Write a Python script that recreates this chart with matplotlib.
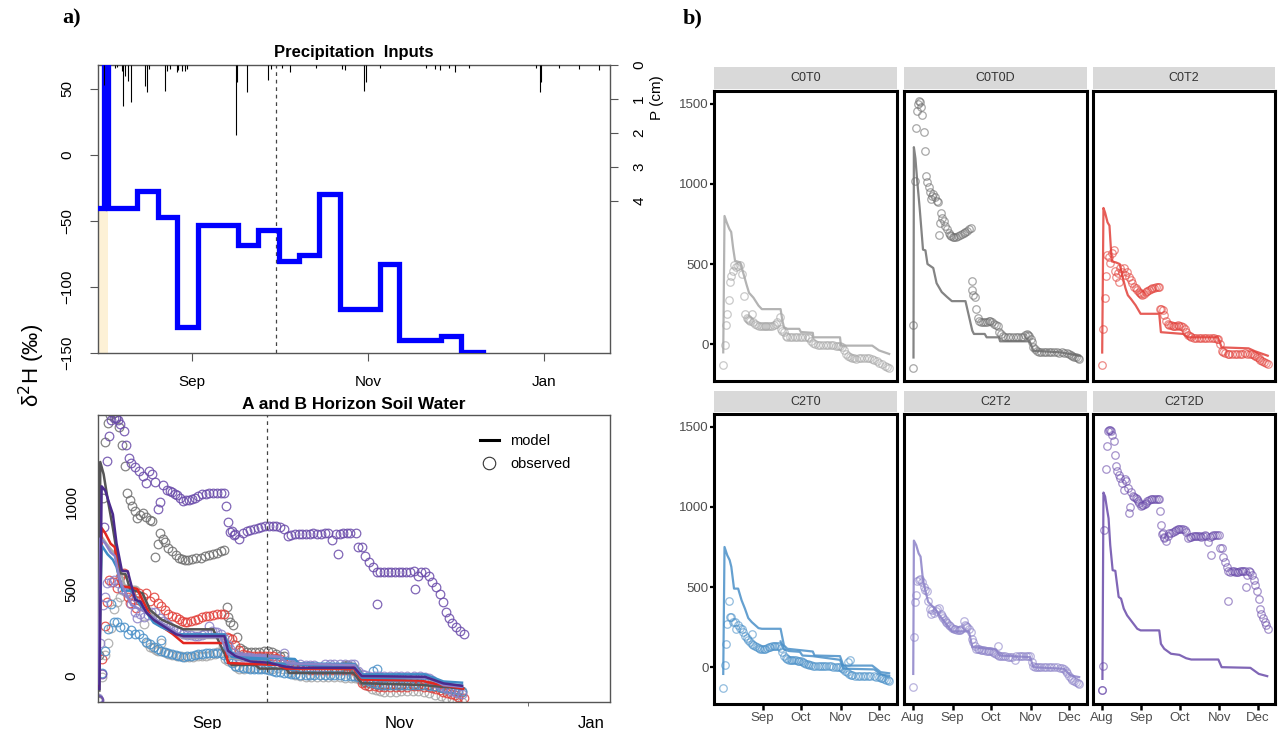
import matplotlib
matplotlib.use('Agg')
import matplotlib.pyplot as plt
from matplotlib.lines import Line2D

plt.rcParams['font.family'] = ['Liberation Sans', 'DejaVu Sans']

# ---------------- data (days since Aug 1) ----------------
# precipitation isotope input steps (panel a top)
precip_step_day = [-1.7, 0.5, 1.6, 11.8, 19.1, 25.7, 33.0, 47.0, 53.9, 60.9, 67.9, 74.8, 82.2, 96.1, 102.7, 117.3, 124.2, 131.7]
precip_step_val = [-40, 300, -40, -27, -47, -130, -53, -68, -57, -80, -76, -30, -117, -83, -140, -137, -149, -149]
# precipitation depth (cm)
rain_day = [0.5, 4.2, 4.8, 6.5, 7.1, 7.7, 8.6, 9.8, 14.6, 15.4, 16.0, 21.6, 22.2, 23.3, 25.7, 26.2, 27.4, 28.5, 29.1,
            46.2, 46.5, 50.0, 57.3, 58.2, 62.0, 65.0, 74.0, 83.0, 84.0, 90.5, 91.2, 96.0, 112.0, 115.0, 117.0, 120.0,
            122.0, 127.0, 150.0, 151.5, 152.0, 158.0, 165.0, 172.0]
rain_cm = [0.6, 0.09, 0.07, 0.17, 1.2, 0.31, 0.46, 1.1, 0.61, 0.79, 0.12, 0.76, 0.17, 0.12, 0.22, 0.14, 0.17, 0.17, 0.12,
           2.06, 0.51, 0.79, 0.43, 0.12, 0.1, 0.2, 0.1, 0.12, 0.15, 0.75, 0.5, 0.1, 0.08, 0.12, 0.15, 0.1,
           0.2, 0.1, 0.1, 0.8, 0.5, 0.1, 0.12, 0.15]
shade_day = [-1.7, 1.9]
shade_top = -42

month_day = [0, 31, 61, 92, 122]
month_lab = ['Aug', 'Sep', 'Oct', 'Nov', 'Dec']
dashed_day = 60

c0t0_obs = [(0,-133),(1.3,-5),(2.4,122),(3.4,187),(4.5,276),(5.6,387),(6.6,425),(7.7,456),(8.7,493),(10,484),(11.5,490),
    (13,495),(14.6,436),(16.4,297),(17.5,187),(18.5,165),(19.5,158),(20.5,150),(21.5,142),(22.5,187),(23.5,135),(25,125),
    (26.5,118),(28,114),(29.5,112),(31,110),(32.5,110),(34,111),(35.5,112),(37,113),(38.5,115),(40,120),(41.5,128),
    (42.5,137),(44.4,170),(45.2,95),(46.3,84),(47.6,78),(49,53),(50.3,42),(52,42),(54,43),(56,43),(58,43),(60,42),(62,42),
    (64,43),(66,42),(67.5,40),(68.8,21),(70,6),(72,0),(74,-5),(76,-7),(78,-7),(80,-8),(82,-8),(84,-8),(86,-9),(88,-10),
    (90,-11),(91.5,-14),(93,-20),(94.5,-35),(96,-60),(97.5,-75),(99,-82),(100.5,-88),(102,-90),(104,-91),(106,-90),
    (108,-88),(110,-86),(112,-85),(114,-88),(116,-95),(118,-100),(120,-108),(122,-116),(124,-125),(126,-135),(128,-145),(129.5,-150)]
c0t0d_obs = [(0,-147),(0.5,120),(1.9,1021),(2.6,1347),(3.4,1453),(4.3,1500),(4.8,1516),(5.8,1512),(6.5,1480),(7.4,1432),
    (8.5,1326),(9.5,1204),(10.3,1053),(11.4,1011),(12.2,979),(13.2,947),(14,905),(15,925),(15.9,937),(17.2,916),(18.5,895),
    (19.3,888),(20.4,682),(21.2,756),(22,819),(23,789),(24,768),(25.1,737),(26.5,716),(27.8,695),(29,680),(29.9,674),(31,668),
    (32,667),(33.5,670),(35,676),(36.5,680),(38,688),(39.7,695),(41,702),(42.3,709),(43.7,716),(45,722),
    (45.8,394),(46.3,337),(47.1,309),(48.1,295),(49.5,221),(50.5,162),(51.6,147),(53,140),(54.5,137),(56,137),(57.5,140),
    (59,145),(60.5,142),(62,137),(63.5,125),(64.8,116),(66.1,112),(67.5,74),(69,60),(70.1,53),(72,47),(74,43),(76,42),(78,42),
    (80,42),(82,43),(84,44),(86,46),(87.5,55),(88.6,63),(89.5,58),(90.7,53),(91.7,30),(92.6,11),(93.9,-21),(95,-33),(96.6,-42),
    (98.5,-48),(100,-50),(102,-52),(104,-52),(106,-52),(108,-52),(110,-52),(112,-52),(114,-53),(116,-52),(118,-54),(120,-58),
    (121.7,-62),(123,-67),(124.3,-73),(125.7,-78),(127,-84),(128.3,-90),(129.6,-95)]
c0t2_obs = [(0,-133),(1.3,95),(2.4,288),(3.2,425),(4,554),(5.3,541),(6.6,505),(7.9,568),(9.3,589),(10.6,456),(11.4,419),
    (12.4,442),(13.5,389),(14.6,474),(15.9,453),(17.2,474),(18.5,432),(19.8,453),(21.2,421),(22.5,400),(23.8,379),(25.1,358),
    (26.5,347),(27.8,337),(29,325),(29.9,316),(31,310),(31.7,309),(33,315),(34.4,322),(35.7,330),(37,337),(38.4,342),(39.7,347),
    (41,350),(42.3,354),(43.7,356),(45,358),
    (45.8,221),(46.7,216),(47.6,211),(48.9,179),(50.3,147),(51.6,126),(53,120),(54.2,116),(55.5,114),(56.9,112),(58.2,114),
    (59.5,116),(60.8,114),(62.2,112),(63.5,105),(64.8,95),(66.1,75),(67.5,57),(68.8,48),(70.1,42),(72,39),(74,37),(76,36),
    (78,36),(80,36),(82,36),(84,36),(86,36),(88,35),(90,33),(91.3,32),(92.6,0),(93.9,-42),(95.2,-50),(96.6,-56),(98.5,-60),
    (100,-62),(102,-63),(104,-63),(106,-63),(108,-63),(110,-61),(112.4,-59),(114,-60),(116,-62),(117.7,-63),(119,-67),
    (120.4,-73),(121.7,-80),(123,-90),(124.3,-97),(125.7,-105),(127,-112),(128.3,-120),(130.2,-126)]
c2t0_obs = [(0,-133),(1.3,14),(2.4,145),(3.4,271),(4.8,411),(5.8,312),(6.6,312),(7.9,281),(9.3,281),(10.6,239),(11.9,264),
    (13.2,243),(14.6,239),(15.9,218),(17.2,197),(18.5,181),(19.8,166),(21.2,156),(22.5,208),(22.5,145),(23.8,138),(25.1,131),
    (26.5,124),(27.8,118),(29,113),(30.4,110),(31.7,112),(33,114),(34.4,119),(35.7,124),(37,127),(38.4,129),(39.7,130),
    (41,131),(42.3,130),(43.7,129),(45,118),(46.3,97),(47.6,72),(48.9,55),(50.3,50),(51.6,47),(53,44),(54.2,41),(55.5,41),
    (56.9,41),(58.2,40),(59.5,39),(60.8,35),(62.2,30),(63.5,25),(64.8,20),(66.1,17),(67.5,14),(68.8,11),(70.1,9),(72,7),
    (74,6),(75.4,5),(77,5),(79,5),(80.7,5),(82.5,4),(84,4),(86,3),(88,2),(90,0),(91.3,-1),(92.6,-5),(93.9,-11),(95.2,-22),
    (96.6,-32),(97.9,30),(99.2,41),(98,-43),(99.5,-49),(101,-52),(103,-53),(105,-53),(107,-53),(109,-53),(111,-53),(113,-54),
    (115,-55),(117.7,-57),(119.5,-60),(121.7,-64),(123,-67),(124.3,-70),(125.7,-74),(127,-78),(128.3,-82),(129.6,-85)]
c2t2_obs = [(0,-125),(0.8,187),(1.9,406),(2.6,452),(3.2,536),(4.5,542),(5.8,549),(7.1,532),(8.5,501),(9.8,480),(11.1,473),
    (11.9,411),(13,365),(14,333),(15.1,354),(16.4,340),(17.7,348),(19,365),(20.4,369),(22,333),(23,318),(23.8,306),(24.8,293),
    (25.7,281),(26.8,272),(27.8,264),(29,254),(30.4,243),(31.7,238),(33,235),(34.4,232),(35.7,229),(37,233),(37.8,239),
    (39.7,287),(40.5,260),(41.5,255),(42.3,250),(43.7,239),(45,218),(46.3,177),(47.1,156),(48.4,131),(49.5,114),(50.5,112),
    (51.6,110),(53,109),(54.2,108),(55.5,105),(56.9,103),(58.2,103),(59.5,103),(60.8,100),(62.2,97),(63.5,90),(64.8,83),
    (66.1,131),(66.5,78),(67.5,72),(68.8,70),(70.1,68),(72,66),(74,64),(75.4,62),(77,60),(79.4,47),(80.7,68),(82.5,68),(84,68),
    (86,68),(88,68),(90,68),(91.3,68),(92.6,30),(93.9,9),(95.2,3),(96.6,-1),(98.5,-1),(100,-1),(102,-1),(104,-1),(106,-1),
    (108,-1),(110,-1),(112.4,-1),(114.5,-3),(116.4,-7),(117.7,-14),(119,-22),(120.4,-38),(121.7,-53),(123,-66),(124.3,-78),
    (125.7,-87),(127,-95),(128.3,-100),(129.6,-105)]
c2t2d_obs = [(0,-141),(0.3,-141),(1.3,9),(2.1,856),(3.2,1236),(4,1378),(4.8,1472),(5.8,1483),(6.5,1480),(7.1,1472),(7.9,1451),
    (9.3,1410),(10.1,1326),(11.1,1253),(11.9,1222),(13.2,1201),(14.6,1180),(15.9,1148),(17.2,1107),(18,1176),(19.3,1163),
    (20.4,1117),(21.2,960),(22,1002),(23,1096),(24.6,1071),(25.5,1065),(26.5,1058),(27.4,1048),(28.3,1038),(29.3,1023),
    (30.4,1008),(31.5,1010),(32.5,1013),(33.5,1018),(34.4,1023),(35.7,1035),(37,1044),(38.4,1048),(39.7,1050),(41,1050),
    (42.3,1050),(43.7,1050),(45,1050),(45.5,975),(46.3,887),(47.1,829),(47.6,835),(48.4,808),(48.9,814),(50.3,787),(51.6,820),
    (52.9,835),(54.2,840),(55.6,845),(57,850),(58.2,856),(59.5,860),(60.8,862),(62.2,862),(63.5,862),(64.8,855),(66.1,845),
    (67.5,804),(68.8,810),(70.1,814),(71.5,816),(72.8,818),(74,818),(75.4,818),(76.7,820),(78,814),(79.4,818),(80.7,824),
    (82,820),(83.3,783),(84.7,814),(85.4,703),(86.3,818),(87.3,824),(88.6,824),(89.9,824),(91.8,824),(92.6,741),(93.9,741),
    (95.2,689),(96.6,657),(97.9,626),(99.2,411),(99.2,599),(100.5,595),(101.9,599),(103.2,597),(104.5,595),(105.8,595),
    (107.1,595),(108.4,597),(109.7,598),(111,600),(112.4,601),(113,501),(113.8,574),(115.1,599),(116.4,595),(117.7,574),
    (119,542),(120.4,511),(121.7,473),(123,423),(123.8,365),(124.9,333),(126.2,306),(127.5,281),(128.8,260),(130.2,239)]

c0t0_mod = [[(0.3,-52),(1.3,800),(3,760),(5,720),(6.5,700),(8,600),(9.5,520),(13.5,510),(16.4,430),(18.5,370),(20.4,320),
    (23.8,290),(27.8,240),(30.4,218),(45,218),(46.3,150),(47.6,105),(50.3,95),(59.5,95),(60.8,75),(70.1,70),(70.5,42),
    (91.3,42),(92,-10),(116.4,-10),(121.7,-40),(129.6,-62)]]
c0t0d_mod = [[(0.5,-84),(0.8,1230),(2,1160),(3.4,1020),(5.3,850),(7.9,590),(9.8,585),(11.4,500),(15.9,475),(18.5,380),
    (22.5,325),(26.5,295),(30.4,268),(41,268),(46.3,84),(47.6,63),(56,63),(57.5,42),(67,42),(68,17),(91,17),(93.9,-42),
    (115,-52),(130,-73)]]
c0t2_mod = [[(0.3,-53),(1.3,850),(2.6,820),(4.5,760),(6,740),(7.1,600),(7.9,516),(11,510),(14,500),(16,430),(18.5,350),
    (20.4,305),(23,280),(26.5,242),(30.4,189),(45,189),(46.3,74),(64,63),(67,42),(91,42),(93.9,-21),(115,-27),(120,-45),(130,-73)]]
c2t0_mod = [[(0.3,-43),(1.3,750),(3.4,699),(5.3,668),(6.6,626),(8.7,490),(11.9,490),(14.6,417),(17.2,365),(19.8,306),
    (22.5,281),(27.8,243),(30.4,239),(45,239),(47.6,135),(50.3,114),(70.1,97),(71.4,72),(91.3,68),(93.9,9),(116.4,9),(123,-32),(129.6,-39)],
    [(45,160),(47.6,110),(51.6,100),(60,95),(62,72),(70,68),(91.3,45),(93.9,-10),(118,-15),(123,-45),(129.6,-55)]]
c2t2_mod = [[(0.3,-43),(0.8,790),(2.6,762),(4.5,710),(6,690),(7.9,542),(11.9,407),(17.2,365),(19.8,333),(23.8,292),
    (27.8,250),(30.4,223),(43.7,223),(46.3,124),(64.8,110),(67.5,72),(91.3,62),(93.9,-1),(117.7,-11),(123,-53),(129.6,-63)]]
c2t2d_mod = [[(0.5,-74),(1.3,1090),(2.6,1065),(4,992),(5.3,929),(6.6,762),(8.5,605),(10.6,601),(13.2,438),(15.1,427),
    (17.2,365),(19.8,323),(23.8,281),(27.8,239),(30.4,229),(45,229),(46.3,145),(48.9,114),(54.2,83),(60.8,76),(66.1,55),
    (70.1,47),(91.3,47),(93.9,-1),(116.4,-5),(123,-43),(129.6,-57)]]

names = ['C0T0', 'C0T0D', 'C0T2', 'C2T0', 'C2T2', 'C2T2D']
colors = ['#A6A6A6', '#6E6E6E', '#E2403A', '#4A90C8', '#8C82C8', '#6A4BAA']
line_colors_a = ['#A8A8A8', '#555555', '#E3261F', '#3E8CC6', '#8C82C8', '#4B2A8C']
obs_all = [c0t0_obs, c0t0d_obs, c0t2_obs, c2t0_obs, c2t2_obs, c2t2d_obs]
mod_all = [c0t0_mod, c0t0d_mod, c0t2_mod, c2t0_mod, c2t2_mod, c2t2d_mod]

# ---------------- figure ----------------
W, H = 1278, 729
fig = plt.figure(figsize=(W / 100, H / 100), dpi=100)


def ax_px(x0, y0, x1, y1, **kw):
    return fig.add_axes([x0 / W, 1 - y1 / H, (x1 - x0) / W, (y1 - y0) / H], **kw)


def unzip(pairs):
    return [p[0] for p in pairs], [p[1] for p in pairs]


frame_col = '#555555'

# ---- panel a, top ----
ax1 = ax_px(98, 65, 610, 353)
ax1.set_xlim(-1.7, 175.8)
ax1.set_ylim(-150, 68)
ax1.fill_between(shade_day, -150, shade_top, color='#FDF1D6', lw=0, zorder=1)
ax1.plot(precip_step_day, precip_step_val, drawstyle='steps-post', color='#0000FF', lw=3.8, zorder=3,
         solid_joinstyle='miter')
ax1.axvline(dashed_day, color='#444444', lw=0.9, ls=(0, (3, 3)), zorder=2)
ax1.set_xticks([31, 92, 153])
ax1.set_xticklabels(['Sep', 'Nov', 'Jan'], fontsize=11)
ax1.tick_params(axis='x', direction='out', length=6, width=0.8, color=frame_col, pad=10)
ax1.set_yticks([-150, -100, -50, 0, 50])
ax1.set_yticklabels(['\u2212150', '\u2212100', '\u221250', '0', '50'], rotation=90, va='center', fontsize=11)
ax1.tick_params(axis='y', direction='out', length=6, width=0.8, color=frame_col, pad=11)
for s in ax1.spines.values():
    s.set_color(frame_col)
    s.set_linewidth(1.0)
ax1.set_title('Precipitation  Inputs', fontsize=12, fontweight='bold', pad=6)

ax1b = ax1.twinx()
ax1b.set_ylim(8.47, 0)
ax1b.vlines(rain_day, 0, rain_cm, color='black', lw=0.8)
ax1b.set_yticks([0, 1, 2, 3, 4])
ax1b.set_yticklabels(['0', '1', '2', '3', '4'], rotation=90, va='center', fontsize=11)
ax1b.tick_params(direction='out', length=6, width=0.8, color=frame_col, pad=10)
for s in ax1b.spines.values():
    s.set_visible(False)
fig.text(657 / W, 1 - 98 / H, 'P (cm)', rotation=90, ha='center', va='center', fontsize=11)

# ---- panel a, bottom ----
ax2 = ax_px(98, 415, 610, 702)
ax2.set_xlim(0, 182.3)
ax2.set_ylim(-150, 1500)
for i in range(6):
    d, v = unzip(obs_all[i])
    ax2.plot(d, v, ls='none', marker='o', ms=6.2, mfc='none', mec=colors[i], mew=0.9, alpha=0.85, zorder=2)
for i in range(6):
    for m in mod_all[i]:
        d, v = unzip(m)
        ax2.plot(d, v, color=line_colors_a[i], lw=1.8, zorder=3)
ax2.axvline(dashed_day, color='#444444', lw=0.9, ls=(0, (3, 3)), zorder=4)
ax2.set_xticks([38.8, 107.5, 175.6])
ax2.set_xticklabels(['Sep', 'Nov', 'Jan'], fontsize=12)
ax2.tick_params(axis='x', length=0, pad=10)
ax2.set_xticks([153], minor=True)
ax2.tick_params(axis='x', which='minor', length=3, color=frame_col)
ax2.set_yticks([0, 500, 1000])
ax2.set_yticklabels(['0', '500', '1000'], rotation=90, va='center', fontsize=11)
ax2.tick_params(axis='y', direction='out', length=0, pad=14)
for s in ax2.spines.values():
    s.set_color(frame_col)
    s.set_linewidth(1.0)
ax2.set_title('A and B Horizon Soil Water', fontsize=12.5, fontweight='bold', pad=4)
handles = [Line2D([], [], color='black', lw=2.2),
           Line2D([], [], ls='none', marker='o', ms=9, mfc='none', mec='#333333', mew=0.8)]
ax2.legend(handles, ['model', 'observed'], loc='upper left', bbox_to_anchor=(0.72, 0.98), frameon=False,
           fontsize=10.5, handlelength=1.3, handletextpad=0.8, labelspacing=0.6)

fig.text(32 / W, 1 - 365 / H, 'δ$^2$H (‰)', rotation=90, ha='center', va='center', fontsize=16)
fig.text(62 / W, 1 - 18 / H, 'a)', fontsize=16, fontweight='bold', family='Liberation Serif', ha='left', va='center')
fig.text(683 / W, 1 - 18 / H, 'b)', fontsize=16, fontweight='bold', family='Liberation Serif', ha='left', va='center')

# ---- panel b facets ----
col_px = [(714, 897), (904, 1087), (1093, 1275)]
row_px = [(91, 381), (414, 704)]
strip_px = [(67, 89), (391, 412)]
for i in range(6):
    r, c = divmod(i, 3)
    x0, x1 = col_px[c]
    y0, y1 = row_px[r]
    ax = ax_px(x0, y0, x1, y1)
    ax.set_xlim(-6.9, 135.7)
    ax.set_ylim(-231, 1581)
    for m in mod_all[i]:
        d, v = unzip(m)
        ax.plot(d, v, color=colors[i], lw=1.6, alpha=0.85, zorder=2)
    d, v = unzip(obs_all[i])
    ax.plot(d, v, ls='none', marker='o', ms=5.4, mfc='none', mec=colors[i], mew=0.9, alpha=0.6, zorder=3)
    for s in ax.spines.values():
        s.set_color('black')
        s.set_linewidth(2.2)
    if c == 0:
        ax.set_yticks([0, 500, 1000, 1500])
        ax.set_yticklabels(['0', '500', '1000', '1500'], fontsize=9.5, color='#4D4D4D')
        ax.tick_params(axis='y', length=3, width=1.6, color='black', pad=1)
    else:
        ax.set_yticks([])
    if r == 1:
        if c == 0:
            ax.set_xticks(month_day[1:])
            ax.set_xticklabels(month_lab[1:], fontsize=9.5, color='#4D4D4D')
        else:
            ax.set_xticks(month_day)
            ax.set_xticklabels(month_lab, fontsize=9.5, color='#4D4D4D')
        ax.tick_params(axis='x', length=4, width=1.8, color='black', pad=2)
    else:
        ax.set_xticks([])
    sax = ax_px(x0, strip_px[r][0], x1, strip_px[r][1])
    sax.set_facecolor('#D9D9D9')
    sax.set_xticks([])
    sax.set_yticks([])
    for s in sax.spines.values():
        s.set_visible(False)
    sax.text(0.5, 0.5, names[i], ha='center', va='center', fontsize=9, color='#333333', transform=sax.transAxes)

fig.savefig('out.png', dpi=100)
